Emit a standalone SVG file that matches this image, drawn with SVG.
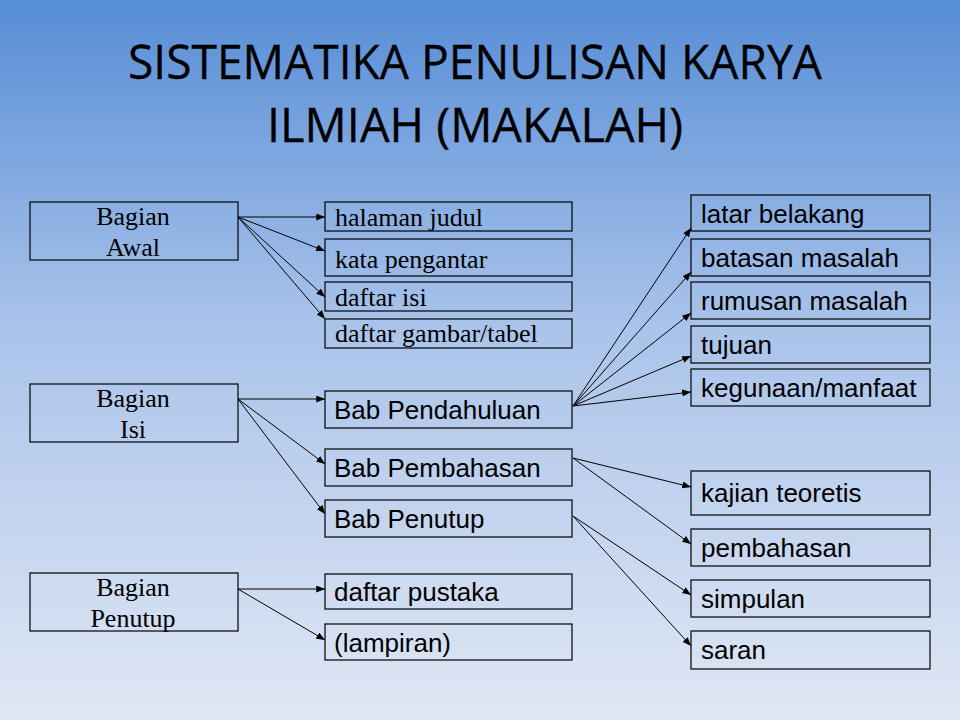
<svg xmlns="http://www.w3.org/2000/svg" width="960" height="720" viewBox="0 0 960 720">
<defs>
<linearGradient id="bg" x1="0" y1="0" x2="0" y2="1">
<stop offset="0" stop-color="#568dd6"/>
<stop offset="0.45" stop-color="#a9c3ea"/>
<stop offset="1" stop-color="#e0e7f4"/>
</linearGradient>
<marker id="ah" viewBox="0 0 10 8" refX="10" refY="4" markerWidth="9" markerHeight="7" markerUnits="userSpaceOnUse" orient="auto">
<path d="M0,0 L10,4 L0,8 Z" fill="#000"/>
</marker>
<style>
.box{fill:none;stroke:#000;stroke-width:1.2}
.serif{font-family:"Liberation Serif","Times New Roman",serif;font-size:26px;fill:#000}
.sans{font-family:"Liberation Sans",Arial,sans-serif;font-size:26px;fill:#000}
.title{font-family:"Open Sans","Noto Sans",sans-serif;font-size:47px;fill:#000;text-anchor:middle;stroke:#000;stroke-width:0.3}
.ctr{text-anchor:middle}
#connectors line{stroke:#000;stroke-width:1;marker-end:url(#ah)}
</style>
</defs>
<rect width="960" height="720" fill="url(#bg)"/>
<g id="title">
<text class="title" x="475" y="79" textLength="694" lengthAdjust="spacingAndGlyphs">SISTEMATIKA PENULISAN KARYA</text>
<text class="title" x="475" y="142" textLength="416" lengthAdjust="spacingAndGlyphs">ILMIAH (MAKALAH)</text>
</g>

<g id="bagian-awal"><rect class="box" x="30" y="202" width="208" height="58"/><text class="serif ctr" x="133" y="225">Bagian</text><text class="serif ctr" x="133" y="256">Awal</text></g>
<g id="bagian-isi"><rect class="box" x="30" y="384" width="208" height="58"/><text class="serif ctr" x="133" y="407">Bagian</text><text class="serif ctr" x="133" y="438">Isi</text></g>
<g id="bagian-penutup"><rect class="box" x="30" y="573" width="208" height="58"/><text class="serif ctr" x="133" y="596">Bagian</text><text class="serif ctr" x="133" y="627">Penutup</text></g>

<g id="halaman-judul"><rect class="box" x="325" y="202" width="247" height="29"/><text class="serif" x="335" y="226">halaman judul</text></g>
<g id="kata-pengantar"><rect class="box" x="325" y="239" width="247" height="37"/><text class="serif" x="335" y="268">kata pengantar</text></g>
<g id="daftar-isi"><rect class="box" x="325" y="282" width="247" height="29"/><text class="serif" x="335" y="306">daftar isi</text></g>
<g id="daftar-gambar"><rect class="box" x="325" y="319" width="247" height="29"/><text class="serif" x="335" y="342">daftar gambar/tabel</text></g>

<g id="bab-pendahuluan"><rect class="box" x="325" y="391" width="247" height="37"/><text class="sans" x="334" y="419">Bab Pendahuluan</text></g>
<g id="bab-pembahasan"><rect class="box" x="325" y="449" width="247" height="37"/><text class="sans" x="334" y="477">Bab Pembahasan</text></g>
<g id="bab-penutup"><rect class="box" x="325" y="500" width="247" height="37"/><text class="sans" x="334" y="528">Bab Penutup</text></g>
<g id="daftar-pustaka"><rect class="box" x="325" y="574" width="247" height="35"/><text class="sans" x="334" y="601">daftar pustaka</text></g>
<g id="lampiran"><rect class="box" x="325" y="624" width="247" height="36"/><text class="sans" x="334" y="652">(lampiran)</text></g>

<g id="latar-belakang"><rect class="box" x="691" y="195" width="239" height="36"/><text class="sans" x="701" y="223">latar belakang</text></g>
<g id="batasan-masalah"><rect class="box" x="691" y="239" width="239" height="37"/><text class="sans" x="701" y="267">batasan masalah</text></g>
<g id="rumusan-masalah"><rect class="box" x="691" y="282" width="239" height="37"/><text class="sans" x="701" y="310">rumusan masalah</text></g>
<g id="tujuan"><rect class="box" x="691" y="326" width="239" height="37"/><text class="sans" x="701" y="354">tujuan</text></g>
<g id="kegunaan"><rect class="box" x="691" y="369" width="239" height="37"/><text class="sans" x="701" y="397">kegunaan/manfaat</text></g>
<g id="kajian-teoretis"><rect class="box" x="691" y="471" width="239" height="44"/><text class="sans" x="701" y="502">kajian teoretis</text></g>
<g id="pembahasan"><rect class="box" x="691" y="529" width="239" height="37"/><text class="sans" x="701" y="557">pembahasan</text></g>
<g id="simpulan"><rect class="box" x="691" y="580" width="239" height="37"/><text class="sans" x="701" y="608">simpulan</text></g>
<g id="saran"><rect class="box" x="691" y="631" width="239" height="38"/><text class="sans" x="701" y="659">saran</text></g>

<g id="connectors">
<line x1="238" y1="217" x2="325" y2="217"/>
<line x1="238" y1="217" x2="325" y2="251"/>
<line x1="238" y1="217" x2="325" y2="297"/>
<line x1="238" y1="217" x2="325" y2="319"/>
<line x1="238" y1="399" x2="325" y2="399"/>
<line x1="238" y1="399" x2="325" y2="464"/>
<line x1="238" y1="399" x2="325" y2="514"/>
<line x1="238" y1="589" x2="325" y2="589"/>
<line x1="238" y1="589" x2="325" y2="640"/>
<line x1="573" y1="406" x2="691" y2="228"/>
<line x1="573" y1="406" x2="691" y2="272"/>
<line x1="573" y1="406" x2="691" y2="313"/>
<line x1="573" y1="406" x2="691" y2="356"/>
<line x1="573" y1="406" x2="691" y2="392"/>
<line x1="573" y1="458" x2="691" y2="487"/>
<line x1="573" y1="458" x2="691" y2="544"/>
<line x1="573" y1="516" x2="691" y2="595"/>
<line x1="573" y1="516" x2="691" y2="646"/>
</g>
</svg>
